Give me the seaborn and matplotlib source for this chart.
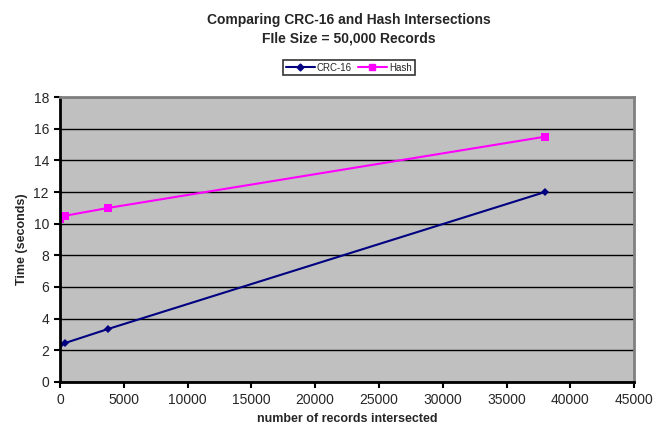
import pandas as pd
import matplotlib.pyplot as plt
import seaborn as sns
from matplotlib.lines import Line2D

# Data
records = [38, 380, 3800, 38000]
crc16_time = [2.3, 2.45, 3.35, 12.0]
hash_time = [10.3, 10.5, 11.0, 15.5]

df = pd.DataFrame({
    'records': records * 2,
    'time': crc16_time + hash_time,
    'method': ['CRC-16'] * len(records) + ['Hash'] * len(records),
})

sns.set_style('white')
plt.rcParams['font.family'] = ['Liberation Sans', 'DejaVu Sans']

fig = plt.figure(figsize=(6.63, 4.30), dpi=100)
ax = fig.add_axes([0.0905, 0.112, 0.866, 0.662])

sns.lineplot(data=df, x='records', y='time', hue='method', style='method',
             palette={'CRC-16': '#000080', 'Hash': '#FF00FF'},
             markers={'CRC-16': 'D', 'Hash': 's'}, dashes=False,
             markersize=5, linewidth=1.5, markeredgewidth=0, ax=ax, legend=False)
# diamonds a bit smaller, squares a bit bigger
for line in ax.get_lines():
    if line.get_marker() == 'D':
        line.set_markersize(4)
    elif line.get_marker() == 's':
        line.set_markersize(6)

ax.set_facecolor('#C0C0C0')
ax.set_xlim(0, 45000)
ax.set_ylim(0, 18)
ax.set_xticks(range(0, 45001, 5000))
ax.set_yticks(range(0, 19, 2))
ax.yaxis.grid(True, color='black', linewidth=1)
ax.set_axisbelow(True)
for s in ['left', 'bottom']:
    ax.spines[s].set_color('black')
    ax.spines[s].set_linewidth(2)
for s in ['top', 'right']:
    ax.spines[s].set_color('#808080')
    ax.spines[s].set_linewidth(2)
ax.tick_params(axis='both', direction='out', length=4, width=1.5, color='black',
               labelsize=10, bottom=True, left=True, pad=4)

ax.set_xlabel('number of records intersected', fontsize=9, fontweight='bold')
ax.set_ylabel('Time (seconds)', fontsize=9, fontweight='bold')

fig.text(0.526, 0.933, 'Comparing CRC-16 and Hash Intersections\nFIle Size = 50,000 Records',
         ha='center', va='center', fontsize=10, fontweight='bold', linespacing=1.4)

handles = [Line2D([], [], color='#000080', marker='D', markersize=3.5, lw=1.5),
           Line2D([], [], color='#FF00FF', marker='s', markersize=5, lw=1.5)]
leg = fig.legend(handles, ['CRC-16', 'Hash'], loc='center', bbox_to_anchor=(0.526, 0.843),
                 ncol=2, fontsize=7, frameon=True, fancybox=False, handlelength=3,
                 columnspacing=0.6, handletextpad=0.2, borderpad=0.3)
leg.get_frame().set_edgecolor('black')
leg.get_frame().set_linewidth(1.2)

plt.savefig('out.png', dpi=100)
